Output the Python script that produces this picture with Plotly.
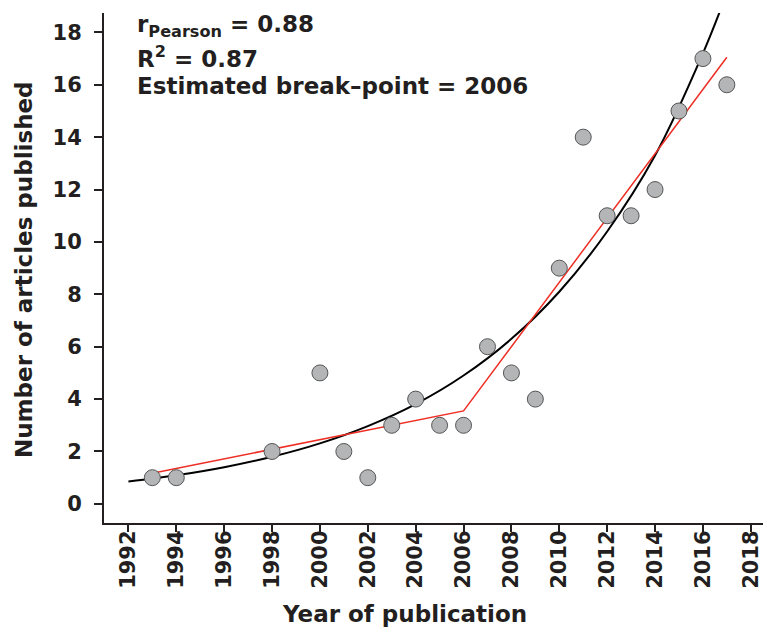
import plotly.graph_objects as go

years = [1993, 1994, 1998, 2000, 2001, 2002, 2003, 2004, 2005, 2006, 2007,
         2008, 2009, 2010, 2011, 2012, 2013, 2014, 2015, 2016, 2017]
articles = [1, 1, 2, 5, 2, 1, 3, 4, 3, 3, 6, 5, 4, 9, 14, 11, 11, 12, 15, 17, 16]

# exponential fit curve
fit_years = [1992, 1994, 1996, 1998, 2000, 2002, 2004, 2006, 2008, 2010, 2012, 2014, 2016, 2017]
fit_values = [0.85, 1.09, 1.40, 1.80, 2.31, 2.97, 3.81, 4.90, 6.3, 8.1, 10.4, 13.3, 17.2, 19.5]

# segmented (break-point) regression
seg_years = [1993, 2006, 2017]
seg_values = [1.17, 3.55, 17.05]

x_ticks = list(range(1992, 2019, 2))
y_ticks = list(range(0, 19, 2))

FONT = "DejaVu Sans"
INK = "#231f20"

fig = go.Figure()
fig.add_trace(go.Scatter(x=fit_years, y=fit_values, mode="lines",
                         line=dict(color="black", width=2, shape="spline"),
                         hoverinfo="skip", showlegend=False))
fig.add_trace(go.Scatter(x=seg_years, y=seg_values, mode="lines",
                         line=dict(color="#ee2e24", width=1.5),
                         showlegend=False))
fig.add_trace(go.Scatter(x=years, y=articles, mode="markers",
                         marker=dict(size=16, color="#b3b5b6",
                                     line=dict(color="#555555", width=1)),
                         showlegend=False))

W, H = 763, 632
L, T, R, B = 104, 13, 0, 109
pw, ph = W - L - R, H - T - B

def px(xp):
    return (xp - L) / pw

def py(yp):
    return (H - B - yp) / ph

tick_font = dict(family=FONT, size=21, color=INK)

fig.update_layout(
    width=W, height=H,
    margin=dict(l=L, r=R, t=T, b=B, autoexpand=False),
    plot_bgcolor="white", paper_bgcolor="white",
    font=dict(family=FONT, color=INK),
    xaxis=dict(range=[1990.98, 2018.51], tickmode="array", tickvals=x_ticks,
               ticktext=["<b>%d</b>" % v for v in x_ticks], tickangle=-90,
               showgrid=False, zeroline=False, showline=True,
               linecolor=INK, linewidth=2,
               ticks="outside", ticklen=7, tickwidth=1.5, tickcolor=INK,
               ticklabelstandoff=-10,
               tickfont=tick_font),
    yaxis=dict(range=[-0.73, 18.74], tickmode="array", tickvals=y_ticks,
               ticktext=["<b>%d</b>" % v for v in y_ticks],
               showgrid=False, zeroline=False, showline=True,
               linecolor=INK, linewidth=2,
               ticks="outside", ticklen=8, tickwidth=1.5, tickcolor=INK,
               ticklabelstandoff=8,
               tickfont=tick_font),
)

ann_font = dict(family=FONT, size=23, color=INK)
fig.add_annotation(xref="paper", yref="paper", x=px(135), y=py(26),
                   xanchor="left", yanchor="middle", showarrow=False,
                   text="<b>r<sub>Pearson</sub> = 0.88</b>", font=ann_font)
fig.add_annotation(xref="paper", yref="paper", x=px(135), y=py(57),
                   xanchor="left", yanchor="middle", showarrow=False,
                   text="<b>R<sup>2</sup> = 0.87</b>", font=ann_font)
fig.add_annotation(xref="paper", yref="paper", x=px(135), y=py(86),
                   xanchor="left", yanchor="middle", showarrow=False,
                   text="<b>Estimated break\u2013point = 2006</b>", font=ann_font)

fig.add_annotation(xref="paper", yref="paper", x=px(24), y=py(270),
                   xanchor="center", yanchor="middle", showarrow=False, textangle=-90,
                   text="<b>Number of articles published</b>", font=dict(family=FONT, size=23, color=INK))
fig.add_annotation(xref="paper", yref="paper", x=px(404), y=py(614),
                   xanchor="center", yanchor="middle", showarrow=False,
                   text="<b>Year of publication</b>", font=dict(family=FONT, size=23, color=INK))

fig.write_html("out.html", config={"displayModeBar": False},
               post_script="document.body.style.margin='0';document.body.style.overflow='hidden';")
